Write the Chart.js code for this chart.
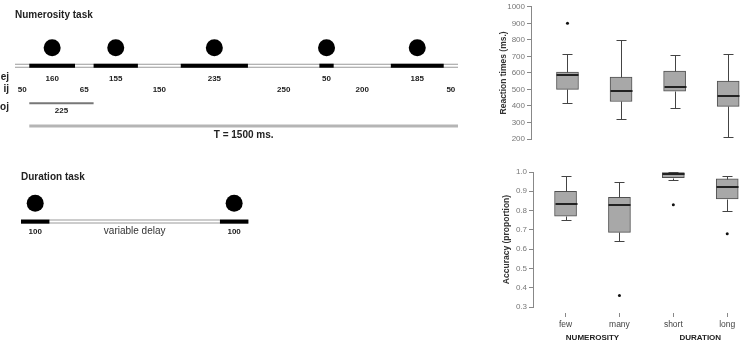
<!DOCTYPE html>
<html lang="en">
<head>
    <meta charset="UTF-8">
    <title>Numerosity and duration tasks</title>
    <style>
        body { margin: 0; background: #fff; }
        #wrap { position: relative; width: 746px; height: 342px; overflow: hidden; }
        canvas { position: absolute; }
    </style>
</head>
<body>
    <div id="wrap">
        <canvas id="numChart" width="470" height="160" style="left:0px;top:0px"></canvas>
        <canvas id="durChart" width="470" height="100" style="left:0px;top:160px"></canvas>
        <canvas id="rtChart" width="276" height="160" style="left:470px;top:0px"></canvas>
        <canvas id="accChart" width="276" height="182" style="left:470px;top:160px"></canvas>
    </div>

    <script src="https://cdn.jsdelivr.net/npm/chart.js"></script>
    <script>
        // Numerosity trial (ms)
        const ejDurations = [160, 155, 235, 50, 185];
        const ijDurations = [50, 65, 150, 250, 200, 50];
        const ojExample = 225;
        const trialLength = 1500;

        // Duration trial (ms)
        const durationSegments = [100, 600, 100];
        const durationKinds = ['ej', 'ij', 'ej'];
        const durationLabels = ['100', 'variable delay', '100'];

        // Box plots
        const conditions = ['few', 'many', 'short', 'long'];
        const conditionGroups = ['NUMEROSITY', 'DURATION'];

        const rtMin = [419, 324, 388, 214];
        const rtQ1 = [500, 427, 489, 397];
        const rtMedian = [585, 492, 514, 463];
        const rtQ3 = [605, 575, 611, 550];
        const rtMax = [717, 800, 706, 717];
        const rtOutliers = [[900], [], [], []];

        const accMin = [0.75, 0.64, 0.961, 0.80];
        const accQ1 = [0.771, 0.687, 0.971, 0.86];
        const accMedian = [0.832, 0.83, 0.988, 0.92];
        const accQ3 = [0.90, 0.869, 0.997, 0.965];
        const accMax = [0.98, 0.95, 1.0, 0.98];
        const accOutliers = [[], [0.36], [0.83], [0.68]];

        Chart.defaults.font.family = '"Liberation Sans", Arial, sans-serif';

        const BOLD10 = 'bold 10px "Liberation Sans", Arial, sans-serif';
        const BOLD8 = 'bold 8px "Liberation Sans", Arial, sans-serif';
        const REG10 = '10px "Liberation Sans", Arial, sans-serif';

        // simple text drawer, x in ms through the scale (or fixed px)
        function makeTextPlugin(items) {
            return {
                id: 'textLabels',
                afterDraw(chart) {
                    const ctx = chart.ctx;
                    const xs = chart.scales.x, ys = chart.scales.y;
                    items.forEach(it => {
                        ctx.save();
                        ctx.font = it.font;
                        ctx.fillStyle = it.color || '#000';
                        ctx.textAlign = it.align || 'center';
                        ctx.textBaseline = 'middle';
                        const px = it.px !== undefined ? it.px : xs.getPixelForValue(it.x);
                        ctx.fillText(it.text, px, ys.getPixelForValue(it.y));
                        ctx.restore();
                    });
                }
            };
        }

        function buildSegments(durations, kinds) {
            const segs = [];
            let t = 0;
            durations.forEach((d, i) => {
                segs.push({ kind: kinds[i], start: t, end: t + d, value: d });
                t += d;
            });
            return segs;
        }

        const mid = s => (s.start + s.end) / 2;

        function lineDs(x0, x1, y, color, width, order) {
            return {
                type: 'line',
                data: [{ x: x0, y: y }, { x: x1, y: y }],
                borderColor: color,
                borderWidth: width,
                borderCapStyle: 'butt',
                pointRadius: 0,
                clip: false,
                order: order
            };
        }

        function dotDs(xs, y) {
            return {
                type: 'line',
                showLine: false,
                data: xs.map(x => ({ x: x, y: y })),
                pointRadius: 8.5,
                pointBackgroundColor: '#000',
                pointBorderColor: '#000',
                pointBorderWidth: 0,
                clip: false,
                order: 0
            };
        }

        function timelineOptions(span, height, padLeft, padRight) {
            return {
                responsive: false,
                animation: false,
                devicePixelRatio: 1,
                events: [],
                layout: { padding: { left: padLeft, right: padRight, top: 0, bottom: 0 } },
                plugins: { legend: { display: false }, tooltip: { enabled: false } },
                scales: {
                    x: { type: 'linear', min: 0, max: span, display: false },
                    y: { type: 'linear', min: 0, max: height, reverse: true, display: false }
                }
            };
        }

        // ---- Numerosity task ----
        const numKinds = [];
        const numDurations = [];
        ijDurations.forEach((ij, i) => {
            numKinds.push('ij'); numDurations.push(ij);
            if (i < ejDurations.length) { numKinds.push('ej'); numDurations.push(ejDurations[i]); }
        });
        const numSegs = buildSegments(numDurations, numKinds);
        const span = numSegs[numSegs.length - 1].end;
        const ejSegs = numSegs.filter(s => s.kind === 'ej');
        const ijSegs = numSegs.filter(s => s.kind === 'ij');
        const onset = ejSegs[0].start;

        const numRows = { dot: 44, line: 64, ej: 79, ij: 91, oj: 106, ojLabel: 114.5, T: 131.5, TLabel: 142 };

        const numTexts = [
            { px: 15, y: 7.5, text: 'Numerosity task', font: BOLD10, align: 'left', color: '#222' },
            { px: 9, y: 77, text: 'ej', font: BOLD10, align: 'right', color: '#222' },
            { px: 9, y: 90, text: 'ij', font: BOLD10, align: 'right', color: '#222' },
            { px: 9, y: 110, text: 'oj', font: BOLD10, align: 'right', color: '#222' },
            { x: onset + ojExample / 2, y: numRows.ojLabel, text: String(ojExample), font: BOLD8, color: '#222' },
            { x: onset + trialLength / 2, y: numRows.TLabel, text: 'T = ' + trialLength + ' ms.', font: BOLD10, color: '#222' }
        ];
        ejSegs.forEach(s => numTexts.push({ x: mid(s), y: numRows.ej, text: String(s.value), font: BOLD8, color: '#222' }));
        ijSegs.forEach(s => numTexts.push({ x: mid(s), y: numRows.ij, text: String(s.value), font: BOLD8, color: '#222' }));

        new Chart(document.getElementById('numChart'), {
            type: 'line',
            data: {
                datasets: [
                    lineDs(0, span, numRows.line, '#9a9a9a', 4, 10),
                    lineDs(0, span, numRows.line, '#fff', 2, 9),
                    ...ejSegs.map(s => lineDs(s.start, s.end, numRows.line, '#000', 4, 8)),
                    lineDs(onset, onset + ojExample, numRows.oj, '#777', 2, 8),
                    lineDs(onset, onset + trialLength, numRows.T, '#b5b5b5', 3, 8),
                    dotDs(ejSegs.map(mid), numRows.dot)
                ]
            },
            options: timelineOptions(span, 160, 15, 12),
            plugins: [makeTextPlugin(numTexts)]
        });

        // ---- Duration task ----
        const durSegs = buildSegments(durationSegments, durationKinds);
        const durEj = durSegs.filter(s => s.kind === 'ej');
        const durRows = { dot: 42, line: 64, label: 76 };
        const durTexts = [
            { px: 21, y: 11, text: 'Duration task', font: BOLD10, align: 'left', color: '#222' }
        ];
        durSegs.forEach((s, i) => durTexts.push({
            x: mid(s), y: durRows.label, text: durationLabels[i],
            font: s.kind === 'ej' ? BOLD8 : REG10, color: s.kind === 'ej' ? '#222' : '#333'
        }));

        new Chart(document.getElementById('durChart'), {
            type: 'line',
            data: {
                datasets: [
                    lineDs(0, durSegs[durSegs.length - 1].end, durRows.line, '#9a9a9a', 4, 10),
                    lineDs(0, durSegs[durSegs.length - 1].end, durRows.line, '#fff', 2, 9),
                    ...durEj.map(s => lineDs(s.start, s.end, durRows.line, '#000', 4, 8)),
                    dotDs(durEj.map(mid), durRows.dot)
                ]
            },
            options: timelineOptions(span, 100, 21, 6),
            plugins: [makeTextPlugin(durTexts)]
        });

        // ---- Box plots ----
        function makeBoxPlugin(st) {
            return {
                id: 'boxWhiskers',
                afterDatasetsDraw(chart) {
                    const ctx = chart.ctx;
                    const xs = chart.scales.x, ys = chart.scales.y;
                    const py = v => Math.round(ys.getPixelForValue(v)) + 0.5;
                    ctx.save();
                    st.min.forEach((mn, i) => {
                        const x = Math.round(xs.getPixelForValue(i + 1)) + 0.5;
                        ctx.strokeStyle = '#444';
                        ctx.lineWidth = 1;
                        ctx.beginPath();
                        ctx.moveTo(x, py(st.q3[i])); ctx.lineTo(x, py(st.max[i]));
                        ctx.moveTo(x - 5, py(st.max[i])); ctx.lineTo(x + 5, py(st.max[i]));
                        ctx.moveTo(x, py(st.q1[i])); ctx.lineTo(x, py(mn));
                        ctx.moveTo(x - 5, py(mn)); ctx.lineTo(x + 5, py(mn));
                        ctx.stroke();
                        ctx.strokeStyle = '#222';
                        ctx.lineWidth = 2;
                        const ym = Math.round(ys.getPixelForValue(st.med[i]));
                        ctx.beginPath();
                        ctx.moveTo(x - 11, ym); ctx.lineTo(x + 11, ym);
                        ctx.stroke();
                    });
                    ctx.restore();
                }
            };
        }

        const groupPlugin = {
            id: 'groupLabels',
            afterDraw(chart) {
                const ctx = chart.ctx;
                const xs = chart.scales.x;
                ctx.save();
                ctx.font = BOLD8;
                ctx.fillStyle = '#222';
                ctx.textAlign = 'center';
                ctx.textBaseline = 'middle';
                conditionGroups.forEach((g, i) => {
                    ctx.fillText(g, xs.getPixelForValue(1.5 + 2 * i), chart.height - 4);
                });
                ctx.restore();
            }
        };

        function boxChart(id, st, cfg) {
            const outliers = [];
            st.out.forEach((arr, i) => arr.forEach(v => outliers.push({ x: i + 1, y: v })));
            const plugins = [makeBoxPlugin(st)];
            if (cfg.showX) plugins.push(groupPlugin);
            return new Chart(document.getElementById(id), {
                type: 'bar',
                data: {
                    datasets: [
                        {
                            type: 'bar',
                            data: st.q1.map((q, i) => ({ x: i + 1, y: [q, st.q3[i]] })),
                            backgroundColor: '#a8a8a8',
                            borderColor: '#505050',
                            borderWidth: 1,
                            borderSkipped: false,
                            barThickness: 22,
                            order: 2
                        },
                        {
                            type: 'scatter',
                            data: outliers,
                            pointRadius: 1.5,
                            pointBackgroundColor: '#111',
                            pointBorderWidth: 0,
                            order: 1
                        }
                    ]
                },
                options: {
                    responsive: false,
                    animation: false,
                    devicePixelRatio: 1,
                    events: [],
                    layout: { padding: cfg.padding },
                    plugins: { legend: { display: false }, tooltip: { enabled: false } },
                    scales: {
                        x: {
                            type: 'linear',
                            min: cfg.xMin,
                            max: cfg.xMax,
                            offset: false,
                            display: cfg.showX,
                            afterBuildTicks: axis => { axis.ticks = conditions.map((c, i) => ({ value: i + 1 })); },
                            afterFit: axis => { if (cfg.showX) axis.height = 35; },
                            border: { display: false },
                            grid: {
                                offset: false,
                                drawOnChartArea: false,
                                tickLength: 10,
                                tickColor: '#888',
                                tickBorderDash: [0, 6, 4, 40]
                            },
                            ticks: {
                                autoSkip: false,
                                maxRotation: 0,
                                padding: 3,
                                color: '#444',
                                font: { size: 8.5 },
                                callback: v => conditions[Math.round(v) - 1]
                            }
                        },
                        y: {
                            type: 'linear',
                            min: cfg.yMin,
                            max: cfg.yMax,
                            afterFit: axis => { axis.width = cfg.axisWidth; },
                            border: { color: '#888' },
                            grid: { drawOnChartArea: false, tickLength: 4, color: '#888' },
                            ticks: {
                                stepSize: cfg.step,
                                autoSkip: false,
                                padding: 2,
                                color: '#777',
                                font: { size: 8 },
                                callback: cfg.fmt
                            },
                            title: {
                                display: true,
                                text: cfg.title,
                                color: '#333',
                                font: { size: 8.5, weight: 'bold' },
                                padding: { top: cfg.titlePad, bottom: 0 }
                            }
                        }
                    }
                },
                plugins: plugins
            });
        }

        boxChart('rtChart',
            { min: rtMin, q1: rtQ1, med: rtMedian, q3: rtQ3, max: rtMax, out: rtOutliers },
            {
                xMin: 0.319, xMax: 4.258, yMin: 200, yMax: 1000, step: 100,
                padding: { left: 29, right: 1, top: 4, bottom: 21 },
                axisWidth: 32, titlePad: 0, showX: false,
                title: 'Reaction times (ms.)',
                fmt: v => String(v)
            });

        boxChart('accChart',
            { min: accMin, q1: accQ1, med: accMedian, q3: accQ3, max: accMax, out: accOutliers },
            {
                xMin: 0.396, xMax: 4.274, yMin: 0.3, yMax: 1.0, step: 0.1,
                padding: { left: 30, right: 1, top: 12, bottom: 0 },
                axisWidth: 33, titlePad: 2, showX: true,
                title: 'Accuracy (proportion)',
                fmt: v => v.toFixed(1)
            });
    </script>
</body>
</html>
